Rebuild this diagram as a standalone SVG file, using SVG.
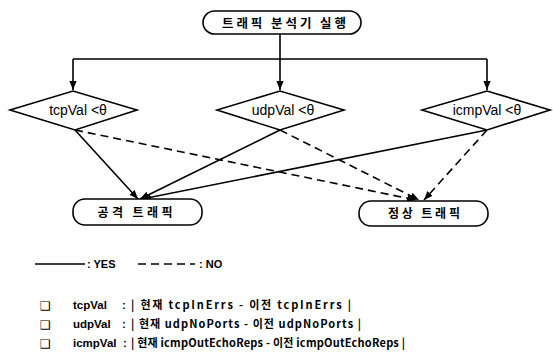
<svg xmlns="http://www.w3.org/2000/svg" width="553" height="364" viewBox="0 0 553 364">
<style>
.box{fill:#fff;stroke:#000;stroke-width:1.6}
.ln{fill:none;stroke:#000;stroke-width:1.6}
.dash{stroke-dasharray:8 5}
.t{font-family:"Liberation Sans","Noto Sans CJK KR",sans-serif;fill:#000}
.k{font-family:"Noto Sans CJK KR","Liberation Sans",sans-serif;font-weight:bold;fill:#000}
.mid{text-anchor:middle}
.cb{font-family:"DejaVu Sans",sans-serif;font-size:12px;fill:#000}
.nl{font-family:"Liberation Sans",sans-serif;font-size:11.5px;font-weight:bold;fill:#000}
</style>
<defs>
<marker id="ah" viewBox="0 0 10 10" refX="10" refY="5" markerWidth="9" markerHeight="9" markerUnits="userSpaceOnUse" orient="auto">
<path d="M0,1 L10,5 L0,9 Z" fill="#000"/>
</marker>
</defs>
<rect width="553" height="364" fill="#fff"/>
<g id="connectors">
<path class="ln" d="M280,34 V59 M73,59 H487"/>
<path class="ln" d="M73,59 V90" marker-end="url(#ah)"/>
<path class="ln" d="M280,59 V90" marker-end="url(#ah)"/>
<path class="ln" d="M487,59 V90" marker-end="url(#ah)"/>
<path class="ln" d="M75,130 L138,199" marker-end="url(#ah)"/>
<path class="ln" d="M280,130 L140,199" marker-end="url(#ah)"/>
<path class="ln" d="M487,130 L142,199" marker-end="url(#ah)"/>
<path class="ln dash" d="M75,130 L416,200" marker-end="url(#ah)"/>
<path class="ln dash" d="M280,130 L419,200" marker-end="url(#ah)"/>
<path class="ln dash" d="M487,130 L424,200" marker-end="url(#ah)"/>
</g>
<g id="start">
<rect class="box" x="203" y="11" width="158" height="23" rx="11.5"/>
<text class="k mid" x="284" y="28" font-size="12.5" textLength="124" lengthAdjust="spacing">트래픽 분석기 실행</text>
</g>
<g id="tcp">
<polygon class="box" points="10,110 73,91 137,110 75,130"/>
<text class="t mid" x="78" y="115" font-size="14">tcpVal &lt;θ</text>
</g>
<g id="udp">
<polygon class="box" points="217,110 280,91 344,110 280,130"/>
<text class="t mid" x="283" y="115" font-size="14">udpVal &lt;θ</text>
</g>
<g id="icmp">
<polygon class="box" points="422,110 487,91 550,110 487,130"/>
<text class="t mid" x="487" y="115" font-size="14">icmpVal &lt;θ</text>
</g>
<g id="attack">
<rect class="box" x="73" y="199" width="129" height="26" rx="12"/>
<text class="k mid" x="135" y="217" font-size="12" textLength="75" lengthAdjust="spacing">공격 트래픽</text>
</g>
<g id="normal">
<rect class="box" x="359" y="201" width="129" height="25" rx="12"/>
<text class="k mid" x="424" y="218" font-size="12" textLength="72" lengthAdjust="spacing">정상 트래픽</text>
</g>
<g id="legend">
<path class="ln" d="M35,264 H85" stroke-width="1.3"/>
<text class="t" x="87" y="268" font-size="11" font-weight="bold">: YES</text>
<path class="ln dash" d="M138,264 H195" stroke-width="1.3" stroke-dasharray="6 5"/>
<text class="t" x="199" y="268" font-size="11" font-weight="bold">: NO</text>
</g>
<g id="notes">
<text class="cb" x="40" y="310">❑</text>
<text class="nl" x="73" y="309">tcpVal</text>
<text class="nl" x="122" y="309">:</text>
<text class="k" x="131" y="309" font-size="11" textLength="220" lengthAdjust="spacing">| 현재 tcpInErrs - 이전 tcpInErrs |</text>
<text class="cb" x="40" y="329">❑</text>
<text class="nl" x="73" y="328">udpVal</text>
<text class="nl" x="122" y="328">:</text>
<text class="k" x="131" y="328" font-size="11" textLength="230" lengthAdjust="spacing">| 현재 udpNoPorts - 이전 udpNoPorts |</text>
<text class="cb" x="40" y="348">❑</text>
<text class="nl" x="73" y="347">icmpVal</text>
<text class="nl" x="123" y="347">:</text>
<text class="k" x="131" y="347" font-size="11" textLength="274" lengthAdjust="spacing">| 현재 icmpOutEchoReps - 이전 icmpOutEchoReps |</text>
</g>
</svg>
